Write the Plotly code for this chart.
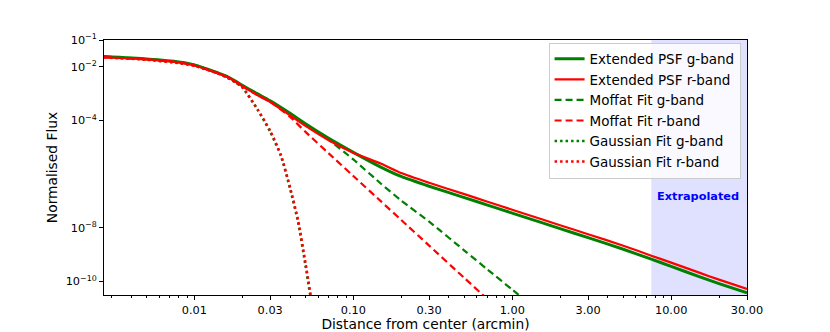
import numpy as np
import plotly.graph_objects as go

# radius (arcmin) and normalised flux
r_psf = [0.0027, 0.005, 0.008, 0.01, 0.012, 0.014, 0.016, 0.018, 0.02, 0.025, 0.03, 0.04,
         0.05, 0.07, 0.1, 0.15, 0.2, 0.3, 0.5, 0.7, 1.0, 1.5, 2.0, 3.0, 5.0, 7.5, 10.0,
         15.0, 20.0, 30.0]
psf_g = [0.0243, 0.0196, 0.0152, 0.0118, 0.00832, 0.0060, 0.00440, 0.0030, 0.00205,
         9.77e-4, 5.40e-4, 1.84e-4, 7.46e-5, 2.15e-5, 6.48e-6, 1.79e-6, 8.15e-7, 3.52e-7,
         1.33e-7, 6.95e-8, 3.50e-8, 1.62e-8, 9.27e-9, 4.28e-9, 1.58e-9, 6.73e-10,
         3.63e-10, 1.50e-10, 8.24e-11, 3.72e-11]
psf_r = [0.0227, 0.0188, 0.0145, 0.0112, 0.00798, 0.0058, 0.00425, 0.0029, 0.00190,
         8.73e-4, 4.90e-4, 1.55e-4, 6.28e-5, 1.83e-5, 6.21e-6, 2.42e-6, 1.09e-6, 4.74e-7,
         1.79e-7, 9.31e-8, 4.69e-8, 2.17e-8, 1.24e-8, 5.74e-9, 2.14e-9, 9.08e-10,
         4.99e-10, 2.11e-10, 1.16e-10, 5.23e-11]

r_moffat_g = [0.0027, 0.005, 0.008, 0.01, 0.012, 0.014, 0.016, 0.018, 0.02, 0.025, 0.03,
              0.04, 0.05, 0.07, 0.1, 0.15, 0.2, 0.3, 0.5, 0.7, 1.0, 1.5]
moffat_g = [0.0243, 0.0196, 0.0152, 0.0118, 0.00832, 0.0060, 0.00440, 0.0030, 0.00205,
            9.77e-4, 5.40e-4, 1.84e-4, 7.46e-5, 1.89e-5, 3.52e-6, 4.28e-7, 1.04e-7,
            1.68e-8, 1.41e-9, 2.74e-10, 4.92e-11, 6.86e-12]
r_moffat_r = [0.0027, 0.005, 0.008, 0.01, 0.012, 0.014, 0.016, 0.018, 0.02, 0.025, 0.03,
              0.04, 0.05, 0.07, 0.1, 0.15, 0.2, 0.3, 0.5, 0.7]
moffat_r = [0.0227, 0.0188, 0.0145, 0.0112, 0.00798, 0.0058, 0.00425, 0.0029, 0.00190,
            8.73e-4, 4.90e-4, 1.36e-4, 3.76e-5, 5.94e-6, 8.50e-7, 9.38e-8, 1.95e-8,
            2.16e-9, 1.33e-10, 2.13e-11]

r_gauss = [0.0027, 0.005, 0.008, 0.01, 0.012, 0.014, 0.016, 0.018, 0.02, 0.025, 0.03,
           0.035, 0.04, 0.045, 0.05, 0.055]
gauss_g = [0.0233, 0.0188, 0.0139, 0.0110, 0.00798, 0.0058, 0.00402, 0.0027, 0.00171,
           2.48e-4, 3.76e-5, 4.80e-6, 2.84e-7, 1.54e-8, 3.85e-10, 1.15e-11]
gauss_r = [0.0223, 0.0183, 0.0137, 0.0108, 0.00778, 0.0057, 0.00402, 0.0027, 0.00178,
           2.59e-4, 4.09e-5, 5.23e-6, 3.22e-7, 1.82e-8, 4.99e-10, 1.48e-11]

x_ticks = [0.01, 0.03, 0.1, 0.3, 1, 3, 10, 30]
x_ticktext = ['0.01', '0.03', '0.10', '0.30', '1.00', '3.00', '10.00', '30.00']
y_ticks = [1e-1, 1e-2, 1e-4, 1e-8, 1e-10]
y_ticktext = ['10<sup>−1</sup>', '10<sup>−2</sup>', '10<sup>−4</sup>',
              '10<sup>−8</sup>', '10<sup>−10</sup>']

x_range = [0.0027, 30]
y_range = [3.1e-11, 1e-1]
extrap_start = 7.5
extrap_label_pos = (14.7, 1.47e-7)

GREEN = '#008000'
RED = '#ff0000'
FONT = 'DejaVu Sans'

fig = go.Figure()

traces = [
    (r_psf, psf_g, 'Extended PSF g-band', GREEN, 3.0, 'solid'),
    (r_moffat_g, moffat_g, 'Moffat Fit g-band', GREEN, 2.2, '7px,4px'),
    (r_gauss, gauss_g, 'Gaussian Fit g-band', GREEN, 2.5, '2.5px,3px'),
    (r_psf, psf_r, 'Extended PSF r-band', RED, 2.2, 'solid'),
    (r_moffat_r, moffat_r, 'Moffat Fit r-band', RED, 2.2, '7px,4px'),
    (r_gauss, gauss_r, 'Gaussian Fit r-band', RED, 2.5, '2.5px,3px'),
]
legend_rank = {'Extended PSF g-band': 1, 'Extended PSF r-band': 2,
               'Moffat Fit g-band': 3, 'Moffat Fit r-band': 4,
               'Gaussian Fit g-band': 5, 'Gaussian Fit r-band': 6}

for x, y, name, color, width, dash in traces:
    fig.add_trace(go.Scatter(x=x, y=y, name=name, mode='lines',
                             line=dict(color=color, width=width, dash=dash,
                                       shape='spline', smoothing=0.6),
                             legendrank=legend_rank[name]))

# extrapolated region
fig.add_shape(type='rect', xref='x', yref='paper',
              x0=extrap_start, x1=x_range[1], y0=0, y1=1,
              fillcolor='rgba(0,0,255,0.12)', line_width=0, layer='below')
# annotations on log axes take log10 coords
fig.add_annotation(x=np.log10(extrap_label_pos[0]), y=np.log10(extrap_label_pos[1]),
                   text='<b>Extrapolated</b>', showarrow=False,
                   font=dict(family=FONT, size=11.3, color='#0000ff'))

axis_common = dict(showline=True, mirror=True, linecolor='black', linewidth=1,
                   ticks='outside', tickcolor='black', ticklen=4, tickwidth=1,
                   showgrid=False, zeroline=False, automargin=False,
                   tickfont=dict(family=FONT, size=11.3, color='black'))

minor_x = [m * 10.0 ** e for e in range(-3, 2) for m in range(2, 10)]

fig.update_xaxes(type='log', range=np.log10(x_range).tolist(),
                 tickmode='array', tickvals=x_ticks, ticktext=x_ticktext,
                 minor=dict(tickmode='array', tickvals=minor_x, ticks='outside',
                            ticklen=2.3, tickcolor='black'),
                 title=dict(text='Distance from center (arcmin)', standoff=2,
                            font=dict(family=FONT, size=13.8, color='black')),
                 **axis_common)
fig.update_yaxes(type='log', range=np.log10(y_range).tolist(),
                 tickmode='array', tickvals=y_ticks, ticktext=y_ticktext,
                 title=dict(text='Normalised Flux', standoff=4,
                            font=dict(family=FONT, size=13.8, color='black')),
                 **axis_common)

# the page body adds an 8px offset, so the figure is 8px smaller than the window
fig.update_layout(
    width=822, height=324,
    margin=dict(l=96, r=83, t=32, b=37),
    paper_bgcolor='white', plot_bgcolor='white',
    font=dict(family=FONT, color='black'),
    legend=dict(x=0.99, y=0.99, xanchor='right', yanchor='top',
                bgcolor='rgba(255,255,255,0.8)', bordercolor='#cccccc', borderwidth=1,
                font=dict(family=FONT, size=13.5, color='black'),
                itemwidth=30, tracegroupgap=0),
)

fig.write_html("out.html")
